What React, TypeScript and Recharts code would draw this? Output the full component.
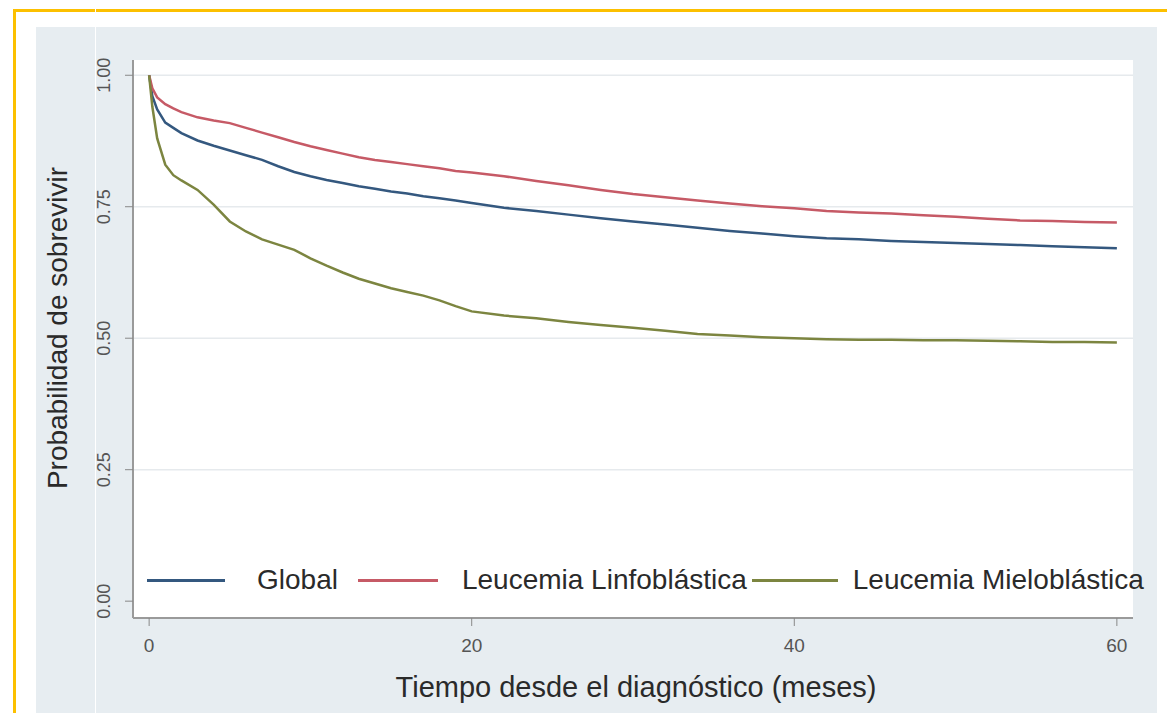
import { LineChart, Line, XAxis, YAxis, CartesianGrid, Legend } from "recharts";

// Kaplan-Meier survival estimates (months since diagnosis)
const months = [
  0, 0.2, 0.5, 1, 1.5, 2, 3, 4, 5, 6, 7, 8, 9, 10, 11, 12, 13, 14, 15, 16, 17, 18, 19, 20,
  22, 24, 26, 28, 30, 32, 34, 36, 38, 40, 42, 44, 46, 48, 50, 52, 54, 56, 58, 60,
];
const globalSurv = [
  1, 0.96, 0.935, 0.91, 0.9, 0.89, 0.876, 0.866, 0.857, 0.848, 0.839, 0.827, 0.816, 0.808,
  0.801, 0.795, 0.789, 0.784, 0.779, 0.775, 0.77, 0.766, 0.762, 0.757, 0.748, 0.742, 0.735,
  0.728, 0.722, 0.716, 0.71, 0.704, 0.699, 0.694, 0.69, 0.688, 0.685, 0.683, 0.681, 0.679,
  0.677, 0.675, 0.673, 0.671,
];
const linfoSurv = [
  1, 0.975, 0.958, 0.945, 0.937, 0.93, 0.92, 0.914, 0.909, 0.9, 0.891, 0.882, 0.873, 0.865,
  0.858, 0.851, 0.844, 0.839, 0.835, 0.831, 0.827, 0.823, 0.818, 0.815, 0.808, 0.799, 0.791,
  0.782, 0.774, 0.768, 0.762, 0.756, 0.751, 0.747, 0.742, 0.739, 0.737, 0.734, 0.731, 0.727,
  0.724, 0.723, 0.721, 0.72,
];
const mieloSurv = [
  1, 0.94, 0.88, 0.83, 0.81, 0.8, 0.782, 0.754, 0.722, 0.703, 0.688, 0.678, 0.668, 0.652,
  0.638, 0.625, 0.613, 0.604, 0.595, 0.588, 0.581, 0.572, 0.561, 0.551, 0.543, 0.538, 0.531,
  0.525, 0.52, 0.514, 0.508, 0.505, 0.502, 0.5, 0.498, 0.497, 0.497, 0.496, 0.496, 0.495,
  0.494, 0.493, 0.493, 0.492,
];

const xTicks = [0, 20, 40, 60];
const yTicks = [0, 0.25, 0.5, 0.75, 1];
const gridValues = [0.25, 0.5, 0.75, 1];

const series = [
  { key: "global", name: "Global", color: "#34587f" },
  { key: "linfo", name: "Leucemia Linfoblástica", color: "#c65a66" },
  { key: "mielo", name: "Leucemia Mieloblástica", color: "#7c8540" },
];

const data = months.map((m, i) => ({
  m,
  global: globalSurv[i],
  linfo: linfoSurv[i],
  mielo: mieloSurv[i],
}));

const font = "'Liberation Sans', Arial, sans-serif";

const YTick = ({ y, payload }: any) => (
  <text
    transform={`translate(110, ${y}) rotate(-90)`}
    textAnchor="middle"
    fontSize={18}
    fontFamily={font}
    fill="#555"
  >
    {payload.value.toFixed(2)}
  </text>
);

const XTick = ({ x, payload }: any) => (
  <text x={x} y={652} textAnchor="middle" fontSize={19} fontFamily={font} fill="#555">
    {payload.value}
  </text>
);

// gaps before each legend line and before each label
const lineGap = [0, 20, 5];
const textGap = [32, 24, 15];
const lineLen = [78, 80, 86];

const renderLegend = () => (
  <div style={{ display: "flex", alignItems: "center", fontFamily: font, fontSize: 28, color: "#2a2a2a", whiteSpace: "nowrap" }}>
    {series.map((s, i) => (
      <div key={s.key} style={{ display: "flex", alignItems: "center" }}>
        <div style={{ marginLeft: lineGap[i], width: lineLen[i], height: 3, background: s.color }} />
        <span style={{ marginLeft: textGap[i] }}>{s.name}</span>
      </div>
    ))}
  </div>
);

export default function App() {
  return (
    <div style={{ position: "absolute", left: 0, top: 0, width: 1167, height: 713, background: "#fff", overflow: "hidden" }}>
      <div style={{ position: "absolute", left: 13, top: 9, right: 0, height: 3, background: "#fcc000" }} />
      <div style={{ position: "absolute", left: 13, top: 9, bottom: 0, width: 3, background: "#fcc000" }} />
      <div style={{ position: "absolute", left: 36, top: 27, width: 1121, height: 700, background: "#e7edf1" }} />
      <div style={{ position: "absolute", left: 0, top: 0 }}>
        <LineChart
          width={1167}
          height={713}
          data={data}
          margin={{ top: 60, right: 34, left: 73, bottom: 35 }}
        >
          <CartesianGrid
            fill="#fff"
            vertical={false}
            horizontalValues={gridValues}
            stroke="#e6eaed"
            strokeWidth={1.5}
          />
          <XAxis
            dataKey="m"
            type="number"
            domain={[-1, 61]}
            ticks={xTicks}
            height={60}
            tick={<XTick />}
            tickSize={8}
            axisLine={{ stroke: "#9a9a9a", strokeWidth: 2 }}
            tickLine={{ stroke: "#888" }}
            label={{
              content: () => (
                <text x={636} y={697} textAnchor="middle" fontSize={29} fontFamily={font} fill="#2a2a2a">
                  Tiempo desde el diagnóstico (meses)
                </text>
              ),
            }}
          />
          <YAxis
            type="number"
            domain={[-0.032, 1.029]}
            ticks={yTicks}
            width={60}
            tick={<YTick />}
            tickSize={8}
            axisLine={{ stroke: "#9a9a9a", strokeWidth: 2 }}
            tickLine={{ stroke: "#888" }}
            label={{
              content: () => (
                <text
                  transform="translate(67, 328) rotate(-90)"
                  textAnchor="middle"
                  fontSize={28}
                  fontFamily={font}
                  fill="#2a2a2a"
                >
                  Probabilidad de sobrevivir
                </text>
              ),
            }}
          />
          <Legend
            layout="horizontal"
            verticalAlign="middle"
            content={renderLegend}
            wrapperStyle={{ left: 147, top: 564, width: 1010, height: 36 }}
          />
          {series.map((s) => (
            <Line
              key={s.key}
              dataKey={s.key}
              name={s.name}
              stroke={s.color}
              strokeWidth={2.5}
              dot={false}
              type="linear"
              isAnimationActive={false}
            />
          ))}
        </LineChart>
      </div>
      <div style={{ position: "absolute", left: 95, top: 0, width: 1, height: 713, background: "#fff" }} />
    </div>
  );
}
